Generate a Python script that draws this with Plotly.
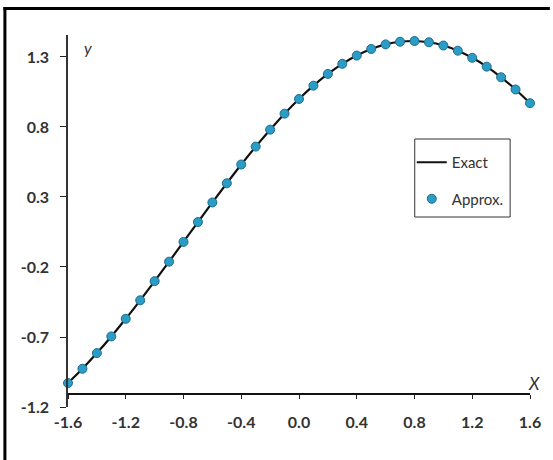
import plotly.graph_objects as go

x_vals = [-1.6, -1.5, -1.4, -1.3, -1.2, -1.1, -1.0, -0.9, -0.8, -0.7, -0.6, -0.5, -0.4, -0.3, -0.2, -0.1,
          0.0, 0.1, 0.2, 0.3, 0.4, 0.5, 0.6, 0.7, 0.8, 0.9, 1.0, 1.1, 1.2, 1.3, 1.4, 1.5, 1.6]
exact_vals = [-1.029, -0.927, -0.815, -0.696, -0.570, -0.438, -0.301, -0.162, -0.021, 0.121, 0.261,
              0.398, 0.532, 0.660, 0.781, 0.895, 1.000, 1.095, 1.179, 1.251, 1.310, 1.357, 1.390,
              1.409, 1.414, 1.405, 1.382, 1.345, 1.294, 1.231, 1.155, 1.068, 0.970]
approx_vals = [-1.029, -0.927, -0.815, -0.696, -0.570, -0.438, -0.301, -0.162, -0.021, 0.121, 0.261,
               0.398, 0.532, 0.660, 0.781, 0.895, 1.000, 1.095, 1.179, 1.251, 1.310, 1.357, 1.390,
               1.409, 1.414, 1.405, 1.382, 1.345, 1.294, 1.231, 1.155, 1.068, 0.970]
x_ticks = [-1.6, -1.2, -0.8, -0.4, 0.0, 0.4, 0.8, 1.2, 1.6]
x_tick_text = ["-1.6", "-1.2", "-0.8", "-0.4", "0.0", "0.4", "0.8", "1.2", "1.6"]
y_ticks = [-1.2, -0.7, -0.2, 0.3, 0.8, 1.3]
y_tick_text = ["-1.2", "-0.7", "-0.2", "0.3", "0.8", "1.3"]

FONT = "Lato, Liberation Sans Narrow, sans-serif"

fig = go.Figure()
fig.add_trace(go.Scatter(
    x=x_vals, y=exact_vals, mode="lines", name="Exact",
    line=dict(color="#111111", width=2.2, shape="spline"),
    legendgroup="a", cliponaxis=False))
fig.add_trace(go.Scatter(
    x=x_vals, y=approx_vals, mode="markers", name="Approx.",
    marker=dict(color="#2a9cc6", size=9, line=dict(color="#1b6e8c", width=1)),
    legendgroup="b", cliponaxis=False))

W, H = 553, 460
L, R, T, B = 68, 20, 35, 53
pw, ph = W - L - R, H - T - B

def px(xp):
    return (xp - L) / pw

def py(yp):
    return (H - B - yp) / ph

fig.update_layout(
    width=W, height=H,
    margin=dict(l=L, r=R, t=T, b=B),
    paper_bgcolor="white", plot_bgcolor="white",
    font=dict(family=FONT, color="#333333"),
    showlegend=True,
    legend=dict(
        x=px(414), y=py(146), xanchor="left", yanchor="top",
        borderwidth=0, bgcolor="rgba(0,0,0,0)",
        font=dict(family=FONT, size=15, color="#333333"),
        tracegroupgap=14, traceorder="grouped",
    ),
    xaxis=dict(
        range=[-1.6, 1.6], tickvals=x_ticks, ticktext=x_tick_text,
        showgrid=False, zeroline=False, showline=True, linecolor="#111111", linewidth=2,
        ticks="outside", ticklen=4, tickwidth=1, tickcolor="#222222",
        tickfont=dict(family=FONT, size=16, color="#333333", weight="bold"),
        ticklabelstandoff=10,
        anchor="free", position=py(394), fixedrange=True,
    ),
    yaxis=dict(
        range=[-1.2, 1.457], tickvals=y_ticks, ticktext=y_tick_text,
        showgrid=False, zeroline=False, showline=True, linecolor="#333333", linewidth=1.5,
        ticks="outside", ticklen=6, tickwidth=1.2, tickcolor="#222222",
        tickfont=dict(family=FONT, size=16, color="#333333", weight="bold"),
        ticklabelstandoff=8,
        fixedrange=True,
    ),
    annotations=[
        dict(text="<i>y</i>", xref="paper", yref="paper", x=px(88), y=py(48),
             xanchor="center", yanchor="middle",
             showarrow=False, font=dict(family=FONT, size=16, color="#333333")),
        dict(text="<i>X</i>", xref="paper", yref="paper", x=px(537), y=py(383),
             xanchor="center", yanchor="middle",
             showarrow=False, font=dict(family=FONT, size=17, color="#333333")),
    ],
    shapes=[
        dict(type="line", xref="paper", yref="paper", x0=px(3), x1=px(553), y0=py(8.5), y1=py(8.5),
             line=dict(color="black", width=3)),
        dict(type="line", xref="paper", yref="paper", x0=px(4.5), x1=px(4.5), y0=py(7), y1=py(460),
             line=dict(color="black", width=3)),
        dict(type="rect", xref="paper", yref="paper", x0=px(417), x1=px(513), y0=py(139), y1=py(217),
             line=dict(color="#333333", width=1), fillcolor="white", layer="above"),
    ],
)

fig.write_html("out.html")
